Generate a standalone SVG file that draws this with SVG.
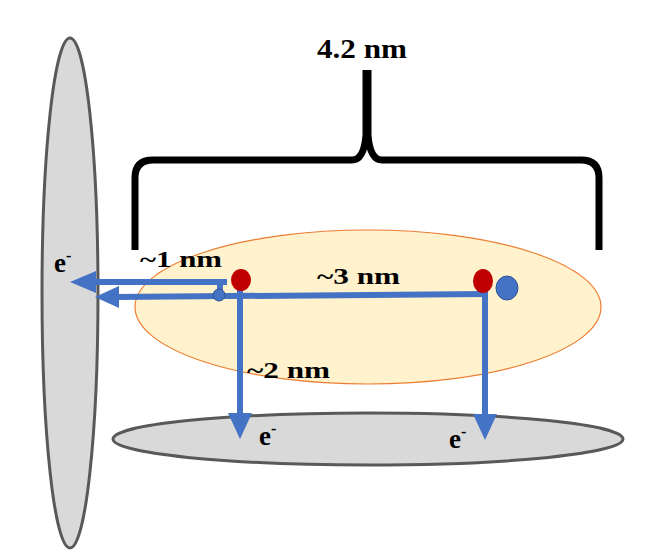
<svg xmlns="http://www.w3.org/2000/svg" width="650" height="555" viewBox="0 0 650 555">
<style>
.lbl{font-family:"Liberation Serif","Times New Roman",serif;font-weight:bold;fill:#000}
.plate{fill:#d9d9d9;stroke:#595959;stroke-width:3}
.conn{stroke:#4472c4;stroke-width:6;fill:none}
.head{fill:#4472c4}
</style>
<rect width="650" height="555" fill="#fff"/>
<g id="left-electrode"><ellipse class="plate" cx="70" cy="293" rx="28" ry="255"/></g>
<g id="bottom-electrode"><ellipse class="plate" cx="368" cy="439" rx="255" ry="26"/></g>
<g id="molecule"><ellipse cx="368" cy="307" rx="233" ry="77" fill="#fff2cc" stroke="#ed7d31" stroke-width="1.2"/></g>
<g id="brace">
<path d="M135,250 V178 Q135,160 153,160 H352 Q364,160 366,135 V70 M599,250 V178 Q599,160 581,160 H382 Q370,160 368,135 V70" fill="none" stroke="#000" stroke-width="7"/>
<text class="lbl" x="362" y="58" font-size="28" text-anchor="middle" textLength="90" lengthAdjust="spacingAndGlyphs">4.2 nm</text>
</g>
<g id="connectors">
<line class="conn" x1="227" y1="282" x2="94" y2="282"/>
<polygon class="head" points="70,282 96,271 96,293"/>
<line class="conn" x1="485" y1="294" x2="116" y2="297"/>
<polygon class="head" points="95,297 119,286 119,308"/>
<line class="conn" x1="220" y1="280" x2="220" y2="298" stroke-width="8"/>
<line class="conn" x1="240" y1="284" x2="240" y2="415"/>
<polygon class="head" points="240,439 228,413 252,413"/>
<line class="conn" x1="485" y1="291" x2="485" y2="415"/>
<polygon class="head" points="485,440 473,414 497,414"/>
</g>
<g id="sites">
<circle cx="219" cy="295" r="6" fill="#4472c4" stroke="#2f5597" stroke-width="1"/>
<ellipse cx="241" cy="280" rx="10" ry="11" fill="#c00000"/>
<ellipse cx="483" cy="281" rx="10" ry="12" fill="#c00000"/>
<ellipse cx="507" cy="288" rx="11" ry="12" fill="#4472c4" stroke="#2f5597" stroke-width="1"/>
</g>
<g id="labels">
<text class="lbl" x="140" y="267" font-size="23" textLength="82" lengthAdjust="spacingAndGlyphs">~1 nm</text>
<text class="lbl" x="317" y="284" font-size="24" textLength="83" lengthAdjust="spacingAndGlyphs">~3 nm</text>
<text class="lbl" x="247" y="378" font-size="24" textLength="83" lengthAdjust="spacingAndGlyphs">~2 nm</text>
<text class="lbl" x="54" y="272" font-size="27">e<tspan font-size="16" dy="-11">-</tspan></text>
<text class="lbl" x="259" y="445" font-size="27">e<tspan font-size="16" dy="-11">-</tspan></text>
<text class="lbl" x="449" y="448" font-size="27">e<tspan font-size="16" dy="-11">-</tspan></text>
</g>
</svg>
